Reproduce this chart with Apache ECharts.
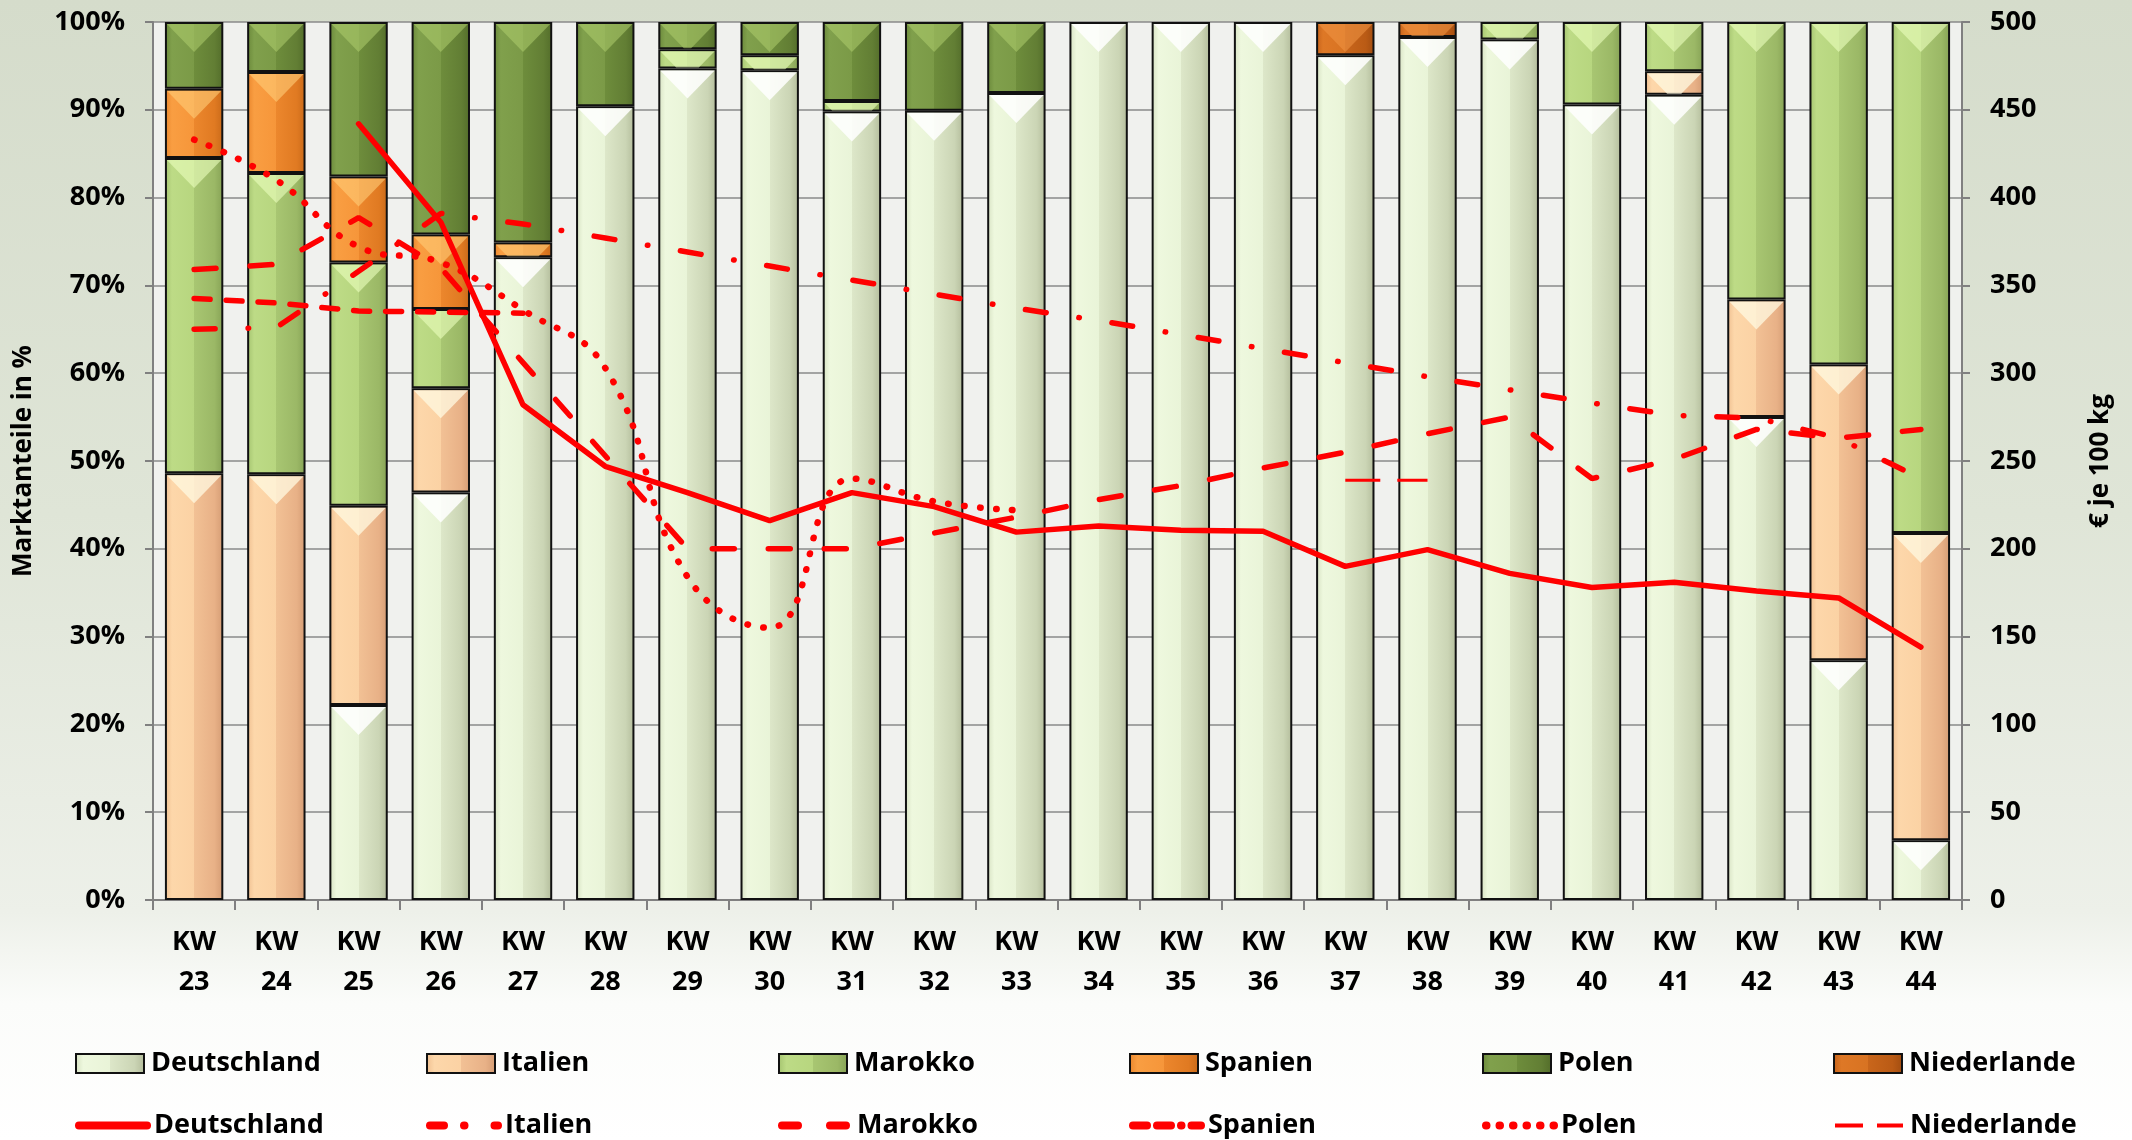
<!DOCTYPE html>
<html><head><meta charset="utf-8">
<script src="https://cdn.jsdelivr.net/npm/echarts@6/dist/echarts.min.js"></script>
<style>html,body{margin:0;padding:0;background:#fff}#c{width:2132px;height:1140px}</style>
</head><body><div id="c"></div>
<script>
// ---- data ----
const weeks = ['23','24','25','26','27','28','29','30','31','32','33','34','35','36','37','38','39','40','41','42','43','44'];
const countries = ['Deutschland','Italien','Marokko','Spanien','Polen','Niederlande'];
// market shares in %
const shareDeutschland = [0, 0, 22.2, 46.4, 73.2, 90.4, 94.7, 94.5, 89.8, 89.9, 91.9, 100, 100, 100, 96.2, 98.3, 98.0, 90.6, 91.7, 55.0, 27.3, 6.8];
const shareItalien     = [48.6, 48.5, 22.7, 11.9, 0, 0, 0, 0, 0, 0, 0, 0, 0, 0, 0, 0, 0, 0, 2.7, 13.4, 33.7, 35.0];
const shareMarokko     = [35.9, 34.3, 27.7, 9.0, 0, 0, 2.2, 1.7, 1.2, 0, 0, 0, 0, 0, 0, 0, 2.0, 9.4, 5.6, 31.6, 39.0, 58.2];
const shareSpanien     = [7.9, 11.5, 9.8, 8.5, 1.7, 0, 0, 0, 0, 0, 0, 0, 0, 0, 0, 0, 0, 0, 0, 0, 0, 0];
const sharePolen       = [7.6, 5.7, 17.6, 24.2, 25.1, 9.6, 3.1, 3.8, 9.0, 10.1, 8.1, 0, 0, 0, 0, 0, 0, 0, 0, 0, 0, 0];
const shareNiederlande = [0, 0, 0, 0, 0, 0, 0, 0, 0, 0, 0, 0, 0, 0, 3.8, 1.7, 0, 0, 0, 0, 0, 0];
// prices in EUR per 100 kg
const priceDeutschland = [null, null, 442, 386, 282, 247, 232, 216, 232, 224, 209.5, 213, 210.5, 210, 190, 199.5, 186, 178, 181, 176, 172, 144];
const priceItalien     = [325, 326, 358, 391, 385, 377, 369, 361, 353, 345, 337, 330, 322, 314, 306, 298, 290.5, 283, 276, 274.5, 263, 240];
const priceMarokko     = [359, 362, 388.6, 360, 306, 253, 200, 200, 200, 209, 218, 228, 236, 246, 255, 265.5, 275, 240, 251, 268, 263, 268];
const priceSpanien     = [342.6, 340, 335.4, 334.8, 334.2, null, null, null, null, null, null, null, null, null, null, null, null, null, null, null, null, null];
const pricePolen       = [433, 410, 372, 363, 336, 303, 184, 155, 240, 227, 222, null, null, null, null, null, null, null, null, null, null, null];
const priceNiederlande = [null, null, null, null, null, null, null, null, null, null, null, null, null, null, 239, 239, null, null, null, null, null, null];
const leftTickLabels = ['0%','10%','20%','30%','40%','50%','60%','70%','80%','90%','100%'];

// ---- styling ----
const FONT = '"Open Sans", "Liberation Sans", sans-serif';
function grad(stops){
  return {type:'linear', x:0, y:0, x2:1, y2:0, colorStops: stops.map(s=>({offset:s[0], color:s[1]}))};
}
const barFills = {
  'Deutschland': grad([[0,'#d6e1c2'],[0.12,'#eef8de'],[0.5,'#e9f4d8'],[0.5,'#dde7c9'],[0.85,'#cbd5b5'],[1,'#b3bc9b']]),
  'Italien':     grad([[0,'#efbf90'],[0.12,'#fdd7aa'],[0.5,'#fbd2a4'],[0.5,'#f2c195'],[0.85,'#e8b187'],[1,'#d49c74']]),
  'Marokko':     grad([[0,'#a4c36f'],[0.12,'#bddb86'],[0.5,'#b7d67f'],[0.5,'#a8c672'],[0.85,'#9bb866'],[1,'#86a255']]),
  'Spanien':     grad([[0,'#e9852b'],[0.12,'#f99e42'],[0.5,'#f6963a'],[0.5,'#ec872d'],[0.85,'#e07a22'],[1,'#c96a19']]),
  'Polen':       grad([[0,'#6a883a'],[0.12,'#80a04c'],[0.5,'#7b9a47'],[0.5,'#6e8d3c'],[0.85,'#627e34'],[1,'#536d2a']]),
  'Niederlande': grad([[0,'#c5621a'],[0.12,'#de7826'],[0.5,'#d87322'],[0.5,'#c9661b'],[0.85,'#ba5b15'],[1,'#a24d10']])
};
const bevelColors = ['rgba(255,255,255,0.85)','rgba(255,250,225,0.75)','rgba(235,255,190,0.6)','rgba(255,205,120,0.6)','rgba(175,205,110,0.55)','rgba(240,150,70,0.55)'];
const shares = [shareDeutschland, shareItalien, shareMarokko, shareSpanien, sharePolen, shareNiederlande];
const prices = [priceDeutschland, priceItalien, priceMarokko, priceSpanien, pricePolen, priceNiederlande];
const lineStyles = [
  {width:5.5, type:'solid', cap:'round'},
  {width:5.5, type:[21,33,0.5,33], cap:'round'},
  {width:5.5, type:[22,34], cap:'round'},
  {width:5.5, type:[16,16], cap:'round'},
  {width:6.5, type:[0.5,15.5], cap:'round'},
  {width:3, type:[35,17], cap:'butt'}
];
const legendLineTypes = ['solid', [14,20,0.5,30], [16,32], [14,10,14,10,0.5,10], [0.5,13], [28,14]];

const series = [];
countries.forEach((c,i)=>{
  series.push({
    name: c, type:'bar', stack:'share', yAxisIndex:0, barWidth:'71%',
    data: shares[i].map(v => v > 0 ? v : null),
    itemStyle: {color: barFills[c], borderColor:'#111', borderWidth:2},
    emphasis:{disabled:true}, z:2
  });
});

// bevel highlight triangles on top of each stacked segment (built from the share arrays)
const segs = [];
weeks.forEach((w,k)=>{
  let cum = 0;
  shares.forEach((arr,i)=>{
    const v = arr[k];
    if (v > 0) { segs.push([k, cum, cum + v, i]); cum += v; }
  });
});
series.push({
  type:'custom', yAxisIndex:0, z:3, silent:true, encode:{x:0, y:[1,2]},
  data: segs,
  renderItem: function(params, api){
    const k = api.value(0), lo = api.value(1), hi = api.value(2), ci = api.value(3);
    const top = api.coord([k, hi]), bot = api.coord([k, lo]);
    const bw = api.size([1,0])[0] * 0.71;
    const x0 = top[0] - bw/2 + 2, x1 = top[0] + bw/2 - 2;
    const yT = top[1] + 2;
    const segH = bot[1] - top[1] - 3;
    const H = 28;
    if (segH <= 1) return null;
    let pts;
    if (segH >= H) {
      pts = [[x0, yT], [x1, yT], [top[0], yT + H]];
    } else {
      const f = 1 - segH / H;
      const hw = (x1 - x0) / 2 * f;
      pts = [[x0, yT], [x1, yT], [top[0] + hw, yT + segH], [top[0] - hw, yT + segH]];
    }
    return {type:'polygon', shape:{points:pts}, style:{fill: bevelColors[ci]}};
  }
});

countries.forEach((c,i)=>{
  series.push({
    name: 'Preis ' + c, type:'line', yAxisIndex:1,
    data: prices[i], symbol:'none', showSymbol:false, connectNulls:false,
    smooth: c === 'Polen' ? 0.45 : false,
    lineStyle: Object.assign({color:'#ff0000'}, lineStyles[i]),
    itemStyle:{color:'#ff0000'},
    emphasis:{disabled:true}, z:5
  });
});

const legendLeft = [75, 426, 778, 1129, 1482, 1833];
const legends = [];
const legText = {fontFamily:FONT, fontSize:27, fontWeight:'bold', color:'#000', padding:[0,0,0,2]};
countries.forEach((c,i)=>{
  legends.push({data:[c], left:legendLeft[i], top:1050, padding:0, itemWidth:68, itemHeight:19, itemGap:0,
    icon:'rect', selectedMode:false, textStyle:legText});
  legends.push({data:['Preis ' + c], left:legendLeft[i], top:1112, padding:0, itemWidth:68, itemHeight:19, itemGap:0,
    selectedMode:false, formatter: n => n.replace('Preis ',''),
    itemStyle:{opacity:0, borderWidth:0},
    lineStyle:{color:'#ff0000', width: i === 5 ? 4 : 8, type: legendLineTypes[i], cap: i === 5 ? 'butt' : 'round'},
    textStyle:legText});
});

const chart = echarts.init(document.getElementById('c'), null, {renderer:'canvas'});
chart.setOption({
  animation:false,
  backgroundColor: {type:'linear', x:0, y:0, x2:0, y2:1, colorStops:[
    {offset:0, color:'#d5dccb'}, {offset:0.45, color:'#dfe5d7'}, {offset:0.8, color:'#edf0e9'},
    {offset:0.88, color:'#fbfcfa'}, {offset:1, color:'#ffffff'}]},
  legend: legends,
  grid: {left:153, right:170, top:22, bottom:240, show:true, backgroundColor:'#f0f1ee', borderWidth:0},
  xAxis: {
    type:'category', data: weeks,
    axisLine:{show:true, lineStyle:{color:'#808080', width:2}},
    axisTick:{show:true, length:10, alignWithLabel:false, lineStyle:{color:'#808080', width:2}},
    axisLabel:{formatter: v => 'KW\n' + v, fontFamily:FONT, fontSize:27, fontWeight:'bold', color:'#000', lineHeight:40, margin:22, interval:0}
  },
  yAxis: [
    {type:'value', min:0, max:100, interval:10, position:'left',
     name:'Marktanteile in %', nameLocation:'middle', nameRotate:90, nameGap:116,
     nameTextStyle:{fontFamily:FONT, fontSize:26, fontWeight:'bold', color:'#000'},
     axisLine:{show:true, lineStyle:{color:'#808080', width:2}},
     axisTick:{show:true, length:8, lineStyle:{color:'#808080', width:2}},
     axisLabel:{formatter: v => leftTickLabels[Math.round(v/10)], fontFamily:FONT, fontSize:27, fontWeight:'bold', color:'#000', margin:28},
     splitLine:{show:true, lineStyle:{color:'#8a8a8a', width:1.5}}},
    {type:'value', min:0, max:500, interval:50, position:'right',
     name:'€ je 100 kg', nameLocation:'middle', nameRotate:90, nameGap:126,
     nameTextStyle:{fontFamily:FONT, fontSize:26, fontWeight:'bold', color:'#000'},
     axisLine:{show:true, lineStyle:{color:'#808080', width:2}},
     axisTick:{show:true, length:8, lineStyle:{color:'#808080', width:2}},
     axisLabel:{fontFamily:FONT, fontSize:27, fontWeight:'bold', color:'#000', margin:28, align:'left'},
     splitLine:{show:false}}
  ],
  series: series
});
</script></body></html>
